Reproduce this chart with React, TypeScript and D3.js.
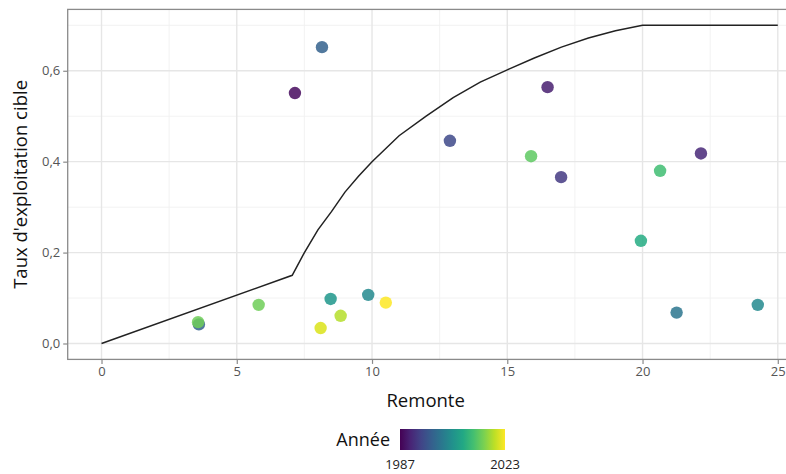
import * as d3 from 'd3';
import { FC, useEffect } from 'react';

// points: remontée (x), taux d'exploitation cible (y), année (colour)
const remonte = [8.15, 7.15, 12.88, 16.49, 15.88, 16.99, 20.65, 22.16, 19.94, 21.26, 24.26, 3.6, 3.57, 5.81, 8.47, 8.1, 8.84, 9.86, 10.51];
const taux = [0.652, 0.551, 0.446, 0.564, 0.412, 0.366, 0.38, 0.418, 0.226, 0.068, 0.085, 0.042, 0.047, 0.085, 0.098, 0.034, 0.061, 0.107, 0.09];
const annee = [1998, 1988, 1995, 1990, 2014, 1993, 2012, 1991, 2009, 2001, 2004, 1998, 2015, 2015, 2006, 2021, 2019, 2004, 2023];

// reference curve
const curveRemonte = [0, 7.05, 7.5, 8, 8.5, 9, 9.5, 10, 11, 12, 13, 14, 15, 16, 17, 18, 19, 20, 25];
const curveTaux = [0, 0.15, 0.2, 0.25, 0.29, 0.333, 0.368, 0.4, 0.457, 0.5, 0.541, 0.575, 0.602, 0.628, 0.652, 0.672, 0.688, 0.7, 0.7];

const xTicks = [0, 5, 10, 15, 20, 25];
const xMinor = [2.5, 7.5, 12.5, 17.5, 22.5];
const yTicks = [0, 0.2, 0.4, 0.6];
const yMinor = [0.1, 0.3, 0.5, 0.7];
const yearRange = [1987, 2023];

const font = "'Open Sans', sans-serif";

const Chart: FC = () => {
  useEffect(() => {
    drawChart();
  }, []);

  const drawChart = () => {
    d3.select('#container').select('svg').remove();

    const width = 786;
    const height = 474;
    const panel = { left: 67.7, right: 811.6, top: 9.4, bottom: 359.4 };

    const svg = d3
      .select('#container')
      .append('svg')
      .attr('width', width)
      .attr('height', height)
      .style('display', 'block')
      .style('font-family', font);

    const xScale = d3.scaleLinear().domain([-1.25, 26.25]).range([panel.left, panel.right]);
    const yScale = d3.scaleLinear().domain([-0.035, 0.735]).range([panel.bottom, panel.top]);
    const colour = d3.scaleSequential(d3.interpolateViridis).domain(yearRange);

    svg
      .append('rect')
      .attr('x', panel.left)
      .attr('y', panel.top)
      .attr('width', panel.right - panel.left)
      .attr('height', panel.bottom - panel.top)
      .attr('fill', '#fff');

    const grid = svg.append('g');
    xMinor.forEach((v) => {
      grid.append('line').attr('x1', xScale(v)).attr('x2', xScale(v))
        .attr('y1', panel.top).attr('y2', panel.bottom)
        .attr('stroke', '#f0f0f0').attr('stroke-width', 0.9);
    });
    yMinor.forEach((v) => {
      grid.append('line').attr('y1', yScale(v)).attr('y2', yScale(v))
        .attr('x1', panel.left).attr('x2', panel.right)
        .attr('stroke', '#f0f0f0').attr('stroke-width', 0.9);
    });
    xTicks.forEach((v) => {
      grid.append('line').attr('x1', xScale(v)).attr('x2', xScale(v))
        .attr('y1', panel.top).attr('y2', panel.bottom)
        .attr('stroke', '#e6e6e6').attr('stroke-width', 1.4);
    });
    yTicks.forEach((v) => {
      grid.append('line').attr('y1', yScale(v)).attr('y2', yScale(v))
        .attr('x1', panel.left).attr('x2', panel.right)
        .attr('stroke', '#e6e6e6').attr('stroke-width', 1.4);
    });

    const line = d3
      .line<number>()
      .x((d) => xScale(d))
      .y((_, i) => yScale(curveTaux[i]));

    svg
      .append('path')
      .datum(curveRemonte)
      .attr('fill', 'none')
      .attr('stroke', '#222')
      .attr('stroke-width', 1.5)
      .attr('d', line);

    svg
      .append('g')
      .selectAll('circle')
      .data(remonte)
      .join('circle')
      .attr('cx', (d) => xScale(d))
      .attr('cy', (_, i) => yScale(taux[i]))
      .attr('r', 6.2)
      .attr('fill', (_, i) => colour(annee[i]))
      .attr('fill-opacity', 0.85);

    svg
      .append('rect')
      .attr('x', panel.left)
      .attr('y', panel.top)
      .attr('width', panel.right - panel.left)
      .attr('height', panel.bottom - panel.top)
      .attr('fill', 'none')
      .attr('stroke', '#8a8a8a')
      .attr('stroke-width', 1.3);

    const fmt = (v: number) => d3.format('.1f')(v).replace('.', ',');

    const xAxis = svg
      .append('g')
      .attr('transform', `translate(0,${panel.bottom})`)
      .call(d3.axisBottom(xScale).tickValues(xTicks).tickSize(4.5).tickPadding(3).tickFormat((d) => `${d}`));
    const yAxis = svg
      .append('g')
      .attr('transform', `translate(${panel.left},0)`)
      .call(d3.axisLeft(yScale).tickValues(yTicks).tickSize(4.5).tickPadding(3).tickFormat((d) => fmt(d as number)));

    [xAxis, yAxis].forEach((a) => {
      a.select('.domain').remove();
      a.selectAll('line').attr('stroke', '#8a8a8a').attr('stroke-width', 1.2);
      a.selectAll('text').attr('fill', '#555').style('font-size', '13px').style('font-family', font);
    });

    svg
      .append('text')
      .attr('x', (xScale(0) + xScale(25)) / 2 - 14)
      .attr('y', 407)
      .attr('text-anchor', 'middle')
      .style('font-size', '18.5px')
      .attr('fill', '#111')
      .text('Remonte');

    svg
      .append('text')
      .attr('transform', `translate(27,${(panel.top + panel.bottom) / 2}) rotate(-90)`)
      .attr('text-anchor', 'middle')
      .style('font-size', '18.5px')
      .attr('fill', '#111')
      .text("Taux d'exploitation cible");

    // colour bar legend
    const bar = { x: 400, y: 429, w: 105, h: 21 };
    const defs = svg.append('defs');
    const grad = defs.append('linearGradient').attr('id', 'viridis-grad');
    d3.range(0, 1.0001, 0.1).forEach((t) => {
      grad.append('stop').attr('offset', `${t * 100}%`).attr('stop-color', d3.interpolateViridis(t));
    });
    svg
      .append('rect')
      .attr('x', bar.x)
      .attr('y', bar.y)
      .attr('width', bar.w)
      .attr('height', bar.h)
      .attr('fill', 'url(#viridis-grad)');

    const legScale = d3.scaleLinear().domain(yearRange).range([bar.x, bar.x + bar.w]);
    svg
      .append('g')
      .selectAll('text')
      .data(yearRange)
      .join('text')
      .attr('x', (d) => legScale(d))
      .attr('y', 469)
      .attr('text-anchor', 'middle')
      .style('font-size', '13px')
      .attr('fill', '#222')
      .text((d) => `${d}`);

    svg
      .append('text')
      .attr('x', 390)
      .attr('y', 446)
      .attr('text-anchor', 'end')
      .style('font-size', '18px')
      .attr('fill', '#111')
      .text('Année');
  };

  return <div id="container" />;
};

export default function App() {
  return (
    <div style={{ position: 'absolute', left: 0, top: 0, width: 786, height: 474, overflow: 'hidden', background: '#fff' }}>
      <Chart />
    </div>
  );
}
